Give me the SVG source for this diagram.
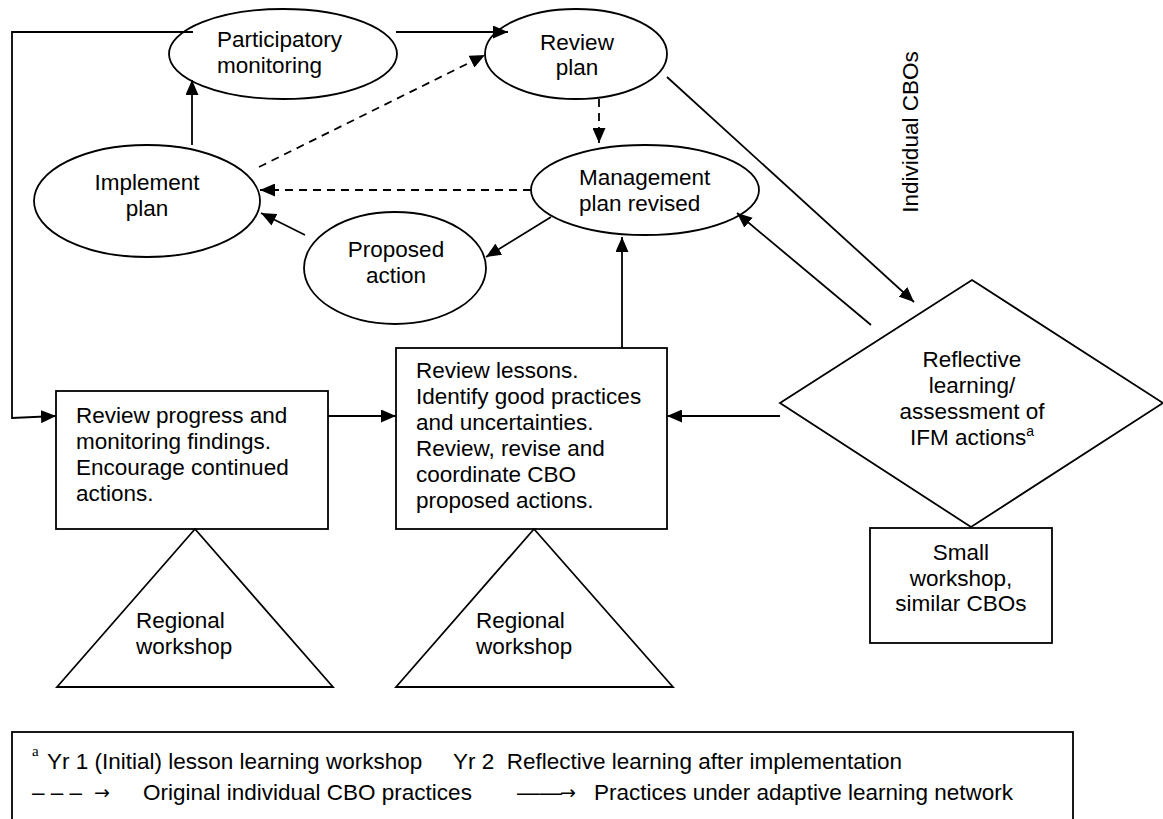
<svg xmlns="http://www.w3.org/2000/svg" width="1163" height="819" viewBox="0 0 1163 819">
<style>
  .shape { fill: #ffffff; stroke: #000000; stroke-width: 1.8; }
  .t { font-family: "Liberation Sans", Arial, sans-serif; font-size: 22.5px; fill: #000000; }
  .c { text-anchor: middle; }
  .lg { font-family: "Liberation Sans", Arial, sans-serif; font-size: 22.5px; fill: #000000; }
  .sym { font-family: "DejaVu Sans", sans-serif; font-size: 19px; fill: #000000; }
  .ln { fill: none; stroke: #000000; stroke-width: 1.8; }
  .dash { stroke-dasharray: 8 6; }
</style>
<defs>
  <marker id="arrow" markerUnits="userSpaceOnUse" markerWidth="15" markerHeight="13" refX="15" refY="6.5" orient="auto">
    <path d="M0,0 L15,6.5 L0,13 z" fill="#000000"/>
  </marker>
</defs>

<g id="node-participatory">
  <ellipse class="shape" cx="283" cy="54" rx="114" ry="45"/>
  <text class="t" x="217" y="47">Participatory</text>
  <text class="t" x="217" y="73">monitoring</text>
</g>
<g id="node-review-plan">
  <ellipse class="shape" cx="576" cy="54" rx="91" ry="45"/>
  <text class="t c" x="577" y="50">Review</text>
  <text class="t c" x="577" y="75">plan</text>
</g>
<g id="node-implement">
  <ellipse class="shape" cx="147" cy="201" rx="113" ry="56"/>
  <text class="t c" x="147" y="190">Implement</text>
  <text class="t c" x="147" y="216">plan</text>
</g>
<g id="node-management">
  <ellipse class="shape" cx="645" cy="190" rx="114" ry="45"/>
  <text class="t" x="579" y="185">Management</text>
  <text class="t" x="579" y="211">plan revised</text>
</g>
<g id="node-proposed">
  <ellipse class="shape" cx="395" cy="268" rx="91" ry="56"/>
  <text class="t c" x="396" y="257">Proposed</text>
  <text class="t c" x="396" y="283">action</text>
</g>
<g id="node-reflective">
  <polygon class="shape" points="972,280 1163,403 971,527 780,403"/>
  <text class="t c" x="972" y="367">Reflective</text>
  <text class="t c" x="972" y="393">learning/</text>
  <text class="t c" x="972" y="419">assessment of</text>
  <text class="t c" x="972" y="445">IFM actions<tspan font-size="14" dy="-9">a</tspan></text>
</g>
<g id="node-small-workshop">
  <rect class="shape" x="870" y="528" width="182" height="115"/>
  <text class="t c" x="961" y="560">Small</text>
  <text class="t c" x="961" y="586">workshop,</text>
  <text class="t c" x="961" y="611">similar CBOs</text>
</g>
<g id="node-review-progress">
  <rect class="shape" x="56" y="391" width="272" height="138"/>
  <text class="t" x="76" y="423">Review progress and</text>
  <text class="t" x="76" y="449">monitoring findings.</text>
  <text class="t" x="76" y="475">Encourage continued</text>
  <text class="t" x="76" y="501">actions.</text>
</g>
<g id="node-review-lessons">
  <rect class="shape" x="396" y="348" width="271" height="181"/>
  <text class="t" x="416" y="378">Review lessons.</text>
  <text class="t" x="416" y="404">Identify good practices</text>
  <text class="t" x="416" y="430">and uncertainties.</text>
  <text class="t" x="416" y="456">Review, revise and</text>
  <text class="t" x="416" y="482">coordinate CBO</text>
  <text class="t" x="416" y="508">proposed actions.</text>
</g>
<g id="node-regional-1">
  <polygon class="shape" points="195,529 333,687 57,687"/>
  <text class="t" x="136" y="628">Regional</text>
  <text class="t" x="136" y="654">workshop</text>
</g>
<g id="node-regional-2">
  <polygon class="shape" points="534,529 673,687 396,687"/>
  <text class="t" x="476" y="628">Regional</text>
  <text class="t" x="476" y="654">workshop</text>
</g>

<text id="label-individual" class="t c" transform="translate(918,132) rotate(-90)">Individual CBOs</text>

<g id="connectors">
  <path class="ln" d="M193,32 H12 V418 L56,416" marker-end="url(#arrow)"/>
  <path class="ln" d="M396,32 H508" marker-end="url(#arrow)"/>
  <path class="ln dash" d="M259,167 L485,55" marker-end="url(#arrow)"/>
  <path class="ln" d="M192,145 V80" marker-end="url(#arrow)"/>
  <path class="ln dash" d="M531,190 H260" marker-end="url(#arrow)"/>
  <path class="ln" d="M305,235 L261,213" marker-end="url(#arrow)"/>
  <path class="ln" d="M551,217 L486,257" marker-end="url(#arrow)"/>
  <path class="ln dash" d="M599,99 V143" marker-end="url(#arrow)"/>
  <path class="ln" d="M622,348 V237" marker-end="url(#arrow)"/>
  <path class="ln" d="M667,77 L914,302" marker-end="url(#arrow)"/>
  <path class="ln" d="M871,325 L737,213" marker-end="url(#arrow)"/>
  <path class="ln" d="M780,416 H667" marker-end="url(#arrow)"/>
  <path class="ln" d="M328,416 H396" marker-end="url(#arrow)"/>
</g>

<g id="legend">
  <rect x="12" y="732" width="1061" height="100" fill="#ffffff" stroke="#000000" stroke-width="1.8"/>
  <text x="32" y="756" font-family="Liberation Serif, 'Times New Roman', serif" font-size="15">a</text>
  <text class="lg" x="47" y="769">Yr 1 (Initial) lesson learning workshop</text>
  <text class="lg" x="902" y="769" text-anchor="end" xml:space="preserve">Yr 2  Reflective learning after implementation</text>
  <text class="lg" x="32" y="800" xml:space="preserve">– – –</text>
  <text class="sym" x="94" y="799">→</text>
  <text class="lg" x="143" y="800">Original individual CBO practices</text>
  <text class="lg" x="517" y="800">——</text>
  <text class="sym" x="560" y="799">→</text>
  <text class="lg" x="1013" y="800" text-anchor="end">Practices under adaptive learning network</text>
</g>
</svg>
